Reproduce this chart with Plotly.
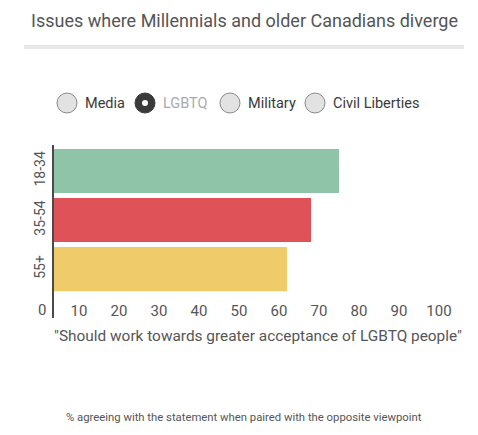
import plotly.graph_objects as go

age_groups = ["18-34", "35-54", "55+"]
agree_pct = [75, 68, 62]
bar_colours = ["#8fc4a8", "#df5258", "#f0cb6a"]
x_ticks = [10, 20, 30, 40, 50, 60, 70, 80, 90, 100]
topics = ["Media", "LGBTQ", "Military", "Civil Liberties"]
selected_topic = "LGBTQ"

# the page body adds an 8px margin, so the figure is a bit smaller
OFF = 8
W, H = 478 - OFF, 435 - OFF
# plot area in page pixels
L, R, T, B = 53, 455, 145, 300


def px_x(p):
    return (p - L) / (R - L)


def px_y(p):
    return (B - p) / (B - T)


fig = go.Figure(go.Bar(
    x=agree_pct,
    y=age_groups,
    orientation="h",
    marker=dict(color=bar_colours, line=dict(width=0)),
    hoverinfo="x+y",
))

font = "Roboto, Arial, sans-serif"
grey = "#555555"

fig.update_layout(
    width=W, height=H,
    margin=dict(l=L - OFF, r=W + OFF - R, t=T - OFF, b=H + OFF - B, pad=0),
    paper_bgcolor="white", plot_bgcolor="white",
    bargap=0.1,
    showlegend=False,
    font=dict(family=font, color=grey),
)
fig.update_xaxes(range=[3.5, 104], tickvals=x_ticks, showgrid=False,
                 zeroline=False, showline=False, ticks="",
                 tickfont=dict(size=15, color=grey))
fig.update_yaxes(range=[2.63, -0.53], showgrid=False, zeroline=False,
                 showline=False, ticks="", tickangle=-90,
                 tickfont=dict(size=14, color=grey), ticklabelstandoff=4)

shapes = [
    # axis line
    dict(type="line", xref="paper", yref="paper", x0=0, x1=0,
         y0=px_y(318), y1=px_y(145), line=dict(color="#4a4a4a", width=2)),
    # rule under the title
    dict(type="rect", xref="paper", yref="paper", x0=px_x(24), x1=px_x(464),
         y0=px_y(49), y1=px_y(45), fillcolor="#e8e8e8", line=dict(width=0)),
]


def label(text, x, y, size, color=grey, xanchor="center"):
    return dict(text=text, xref="paper", yref="paper", x=px_x(x), y=px_y(y),
                xanchor=xanchor, yanchor="middle", showarrow=False,
                font=dict(size=size, color=color))


annotations = [
    label("Issues where Millennials and older Canadians diverge", 244, 20, 18),
    label("0", 42, 310, 15),
    label('"Should work towards greater acceptance of LGBTQ people"', 258, 336, 15.4),
    label("% agreeing with the statement when paired with the opposite viewpoint",
          244, 417, 11.3),
]

# radio buttons
circle_x = [67, 145, 230, 315]
r = 10
cy = 103
for topic, cx in zip(topics, circle_x):
    on = topic == selected_topic
    shapes.append(dict(type="circle", xref="paper", yref="paper",
                       x0=px_x(cx - r), x1=px_x(cx + r),
                       y0=px_y(cy + r), y1=px_y(cy - r),
                       fillcolor="#3a3a3a" if on else "#e2e2e2",
                       line=dict(color="#3a3a3a" if on else "#8a8a8a", width=1)))
    if on:
        shapes.append(dict(type="circle", xref="paper", yref="paper",
                           x0=px_x(cx - 3), x1=px_x(cx + 3),
                           y0=px_y(cy + 3), y1=px_y(cy - 3),
                           fillcolor="white", line=dict(width=0)))
    annotations.append(label(topic, cx + r + 6, cy, 14.5,
                             color="#aaaaaa" if on else "#3a3a3a",
                             xanchor="left"))

fig.update_layout(shapes=shapes, annotations=annotations)
fig.write_html("out.html")
